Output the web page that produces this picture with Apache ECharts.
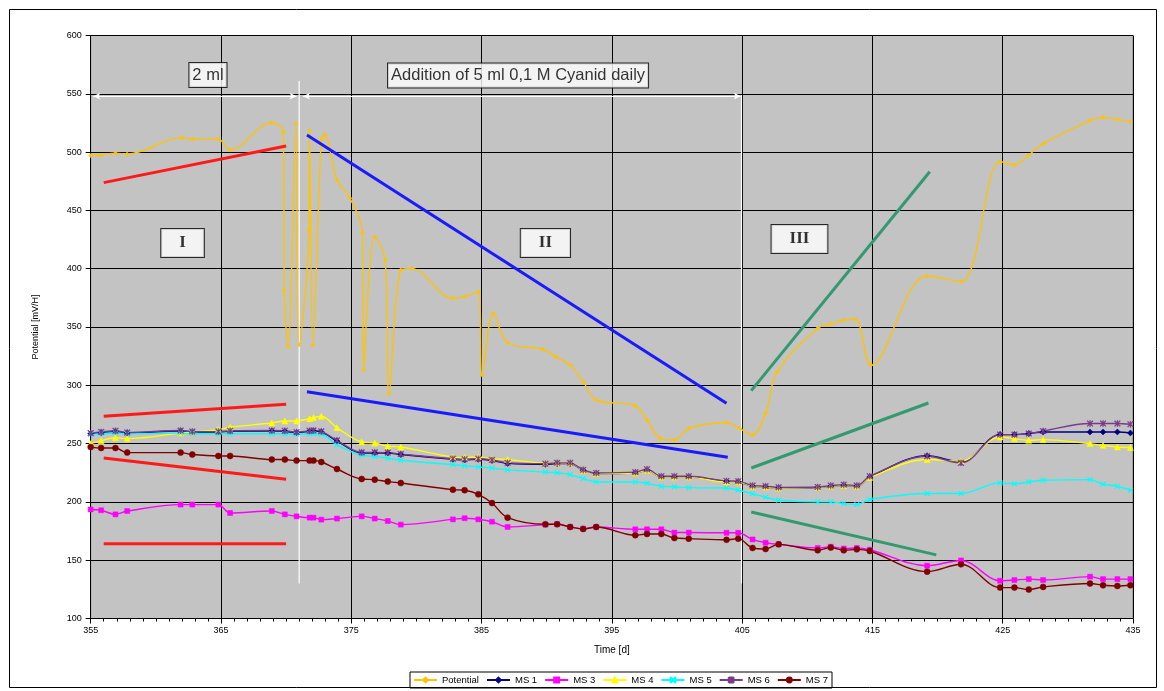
<!DOCTYPE html>
<html>
<head>
<meta charset="utf-8">
<script src="https://cdn.jsdelivr.net/npm/echarts@6/dist/echarts.min.js"></script>
<style>html,body{margin:0;padding:0;background:#fff;}#c{width:1164px;height:691px;}</style>
</head>
<body>
<div id="c"></div>
<script>
// ---- data (day, value) ----
const potential = [[355.0,497],[355.7,497.5],[356.9,499],[357.8,498.4],[362.0,512.4],[362.8,511.2],[364.8,511],[365.7,501.8],[368.9,525.2],[369.8,517.5],[369.85,381],[370.15,333],[370.75,524.7],[371.0,334.6],[371.75,432.6],[371.8,518.4],[372.05,334.6],[372.7,511],[372.95,515],[373.9,476],[374.9,460.4],[375.85,431],[375.95,313],[376.8,427.5],[377.6,407.5],[377.9,293],[378.8,399],[379.6,400.3],[382.8,374.6],[383.7,376],[384.75,380.3],[385.05,308.8],[385.9,361.7],[387.0,336.7],[389.7,330.9],[390.7,324.5],[391.8,317.4],[392.8,303.1],[393.8,287.4],[396.8,282.5],[397.7,270.2],[398.7,254.5],[399.8,253.1],[400.9,263.1],[403.8,267.9],[404.8,263.1],[405.8,257.4],[406.8,276],[407.7,311.7],[410.8,348.9],[411.8,352.6],[412.8,356],[413.7,356.6],[414.9,317.4],[419.2,393.7],[421.8,389],[424.8,491.8],[425.9,489],[427.0,497.5],[428.1,507],[431.7,527],[432.7,529.8],[433.8,528.1],[434.8,526.1]];
const ms1 = [[355.0,258.6],[355.8,259.4],[356.9,260.5],[357.8,259.1],[361.9,260.8],[362.8,260],[364.8,260],[365.7,260.5],[368.9,260.8],[369.9,260.5],[370.8,259.4],[371.8,260.5],[372.1,260.8],[372.7,260],[373.9,252.2],[375.8,241.9],[376.8,241.9],[377.8,241.9],[378.8,240.6],[382.8,236.5],[383.7,236],[384.75,236.5],[385.8,235.5],[387.0,233],[389.9,232.2],[390.8,232.8],[391.8,232.8],[392.8,227.1],[393.8,224.3],[396.8,224.8],[397.7,227.1],[398.8,221.4],[399.8,221.4],[400.9,221.4],[403.8,217.5],[404.7,217.1],[405.8,213.4],[406.8,212.8],[407.8,211.9],[410.8,212.2],[411.8,213.4],[412.8,214],[413.8,213.4],[414.8,221.4],[419.2,239.6],[421.8,234.2],[424.8,257.7],[425.9,257.7],[427.0,258.6],[428.1,260],[431.7,260],[432.7,260],[433.8,260],[434.8,259.1]];
const ms3 = [[355.0,193.5],[355.8,192.8],[356.9,189.3],[357.8,192.2],[361.9,197.7],[362.8,197.7],[364.8,197.7],[365.7,190.5],[368.9,192.2],[369.9,189.3],[370.8,187.6],[371.8,186.5],[372.1,186.5],[372.7,184.8],[373.9,185.7],[375.8,187.6],[376.8,185.7],[377.8,183.6],[378.8,180.5],[382.8,185],[383.7,186],[384.75,185],[385.8,183],[387.0,178.5],[389.9,180.5],[390.8,181],[391.8,178.5],[392.8,177],[393.8,178.5],[396.8,176.5],[397.7,176.5],[398.8,176.5],[399.8,173.7],[400.9,173.7],[403.8,173.5],[404.7,173.5],[405.8,167.8],[406.8,165],[407.8,163.6],[410.8,160.5],[411.8,161.5],[412.8,160],[413.8,160.5],[414.8,159],[419.2,145.3],[421.8,149.8],[424.8,132.4],[425.9,133],[427.0,133.8],[428.1,133],[431.7,135.9],[432.7,133.8],[433.8,133.8],[434.8,133.8]];
const ms4 = [[355.0,250],[355.8,252.5],[356.9,255],[357.8,254.3],[361.9,259],[362.8,260],[364.8,262],[365.7,264],[368.9,267.7],[369.9,269.4],[370.8,269.4],[371.8,271.4],[372.1,272.3],[372.7,273.4],[373.9,263.7],[375.8,251.4],[376.8,250.5],[377.8,247.7],[378.8,247.1],[382.8,238.5],[383.7,238],[384.75,238.5],[385.8,237.1],[387.0,236.3],[389.9,233.4],[390.8,233.4],[391.8,233.4],[392.8,227.1],[393.8,224.3],[396.8,224.8],[397.7,227.1],[398.8,221.4],[399.8,221.4],[400.9,221.4],[403.8,217.1],[404.7,217.1],[405.8,213.4],[406.8,212.8],[407.8,211.9],[410.8,212.5],[411.8,213.5],[412.8,214],[413.8,213.5],[414.8,221],[419.2,236.3],[421.8,235],[424.8,255.7],[425.9,254.3],[427.0,252.8],[428.1,253.4],[431.7,250],[432.7,248.5],[433.8,247.1],[434.8,246.6]];
const ms5 = [[355.0,258],[355.8,258.5],[356.9,259],[357.8,258.5],[361.9,259],[362.8,258.5],[364.8,258.5],[365.7,258.5],[368.9,258.5],[369.9,258.5],[370.8,258],[371.8,258.5],[372.1,258.5],[372.7,258],[373.9,249],[375.8,240],[376.8,239],[377.8,237.5],[378.8,235.7],[382.8,232],[383.7,231],[384.75,230],[385.8,229],[387.0,227.5],[389.9,225.6],[390.8,225],[391.8,223.4],[392.8,220],[393.8,217.1],[396.8,217.1],[397.7,216],[398.8,213.4],[399.8,213],[400.9,212.2],[403.8,211.9],[404.7,210],[405.8,207],[406.8,204],[407.8,201.4],[410.8,200],[411.8,200],[412.8,198.6],[413.8,197.7],[414.8,202],[419.2,207.2],[421.8,207.2],[424.8,216.3],[425.9,215.5],[427.0,217.1],[428.1,218.6],[431.7,219.1],[432.7,215.2],[433.8,213.4],[434.8,210]];
const ms6 = [[355.0,259],[355.8,260],[356.9,261],[357.8,259.5],[361.9,261.2],[362.8,260.3],[364.8,260.3],[365.7,261],[368.9,261.2],[369.9,261],[370.8,259.8],[371.8,261],[372.1,261.3],[372.7,260.5],[373.9,252.8],[375.8,242.5],[376.8,242.5],[377.8,242.3],[378.8,241],[382.8,237],[383.7,236.5],[384.75,237],[385.8,236],[387.0,233.5],[389.9,232.8],[390.8,233.5],[391.8,233.5],[392.8,227.5],[393.8,224.8],[396.8,225.5],[397.7,228],[398.8,222],[399.8,222],[400.9,222],[403.8,218],[404.7,217.8],[405.8,214],[406.8,213.5],[407.8,212.5],[410.8,212.8],[411.8,214],[412.8,214.8],[413.8,214],[414.8,222],[419.2,239.1],[421.8,233.4],[424.8,257.7],[425.9,257.7],[427.0,258.6],[428.1,260.8],[431.7,267.2],[432.7,267.2],[433.8,267.2],[434.8,266.6]];
const ms7 = [[355.0,247],[355.8,246.2],[356.9,246.2],[357.8,242.3],[361.9,242.3],[362.8,240.6],[364.8,239.4],[365.7,239.4],[368.9,236.3],[369.9,236.3],[370.8,235.4],[371.8,235.4],[372.1,235.4],[372.7,234.2],[373.9,228.2],[375.8,219.6],[376.8,219.1],[377.8,217.4],[378.8,216.2],[382.8,210.5],[383.7,210],[384.75,206.5],[385.8,199],[387.0,186.5],[389.9,180.8],[390.8,180.8],[391.8,178.5],[392.8,176.8],[393.8,178.5],[396.8,171.4],[397.7,172.5],[398.8,172.5],[399.8,169.0],[400.9,168.5],[403.8,167.5],[404.7,168.5],[405.8,160.5],[406.8,159.6],[407.8,163.6],[410.8,158.5],[411.8,160.8],[412.8,158.5],[413.8,159.3],[414.8,157.9],[419.2,140.2],[421.8,146.5],[424.8,126.5],[425.9,126.5],[427.0,124.8],[428.1,127.1],[431.7,130],[432.7,128.5],[433.8,127.9],[434.8,128.5]];

// trend / annotation lines (data coordinates)
const redTrends = [[[356.0,473.8],[370.0,505.2]],[[356.0,273.4],[370.0,283.7]],[[356.0,237.7],[370.0,219.4]],[[356.0,164.2],[370.0,164.2]]];
const blueTrends = [[[371.6,514.7],[403.8,284.6]],[[371.6,294.5],[403.9,238.3]]];
const greenTrends = [[[405.7,295.4],[419.4,483.2]],[[405.7,229.1],[419.3,284.8]],[[405.7,191.4],[419.9,154.6]]];
const dividers = [[[371.0,561],[371.0,130]],[[404.95,549],[404.95,130]]];
const periodSpans = [[[355.2,548],[370.8,548]],[[371.3,548],[404.9,548]]];
const boxLabels = [
  {text:'2 ml', at:[364.0,566.1], serif:false},
  {text:'Addition of 5 ml 0,1 M Cyanid daily', at:[387.8,565.7], serif:false},
  {text:'I', at:[362.05,422], serif:true},
  {text:'II', at:[389.9,422], serif:true},
  {text:'III', at:[409.4,425.5], serif:true}
];
const xTicks = {min:355, max:435, step:10};
const yTicks = {min:100, max:600, step:50};

const chart = echarts.init(document.getElementById('c'), null, {renderer:'canvas'});
const FONT = 'Liberation Sans, Arial, sans-serif';
const xShape = 'path://M1,0L5,4L9,0L10,1L6,5L10,9L9,10L5,6L1,10L0,9L4,5L0,1Z';
const starShape = 'path://M1,0L5,4L9,0L10,1L6,5L10,9L9,10L5,6L1,10L0,9L4,5L0,1Z M4.4,0L5.6,0L5.6,10L4.4,10Z';

function dataSeries(name, data, color, symbol, size, z){
  return {name, type:'line', data, smooth:0.35, symbol, symbolSize:size, showSymbol:true,
    lineStyle:{color, width:1.4}, itemStyle:{color, borderColor:color, borderWidth:0.5},
    emphasis:{disabled:true}, z: z, clip:true, animation:false};
}
function annoLine(pts, color, width, z){
  return {type:'line', data:pts, symbol:'none', lineStyle:{color, width}, silent:true,
    emphasis:{disabled:true}, z: z, animation:false, tooltip:{show:false}};
}

const series = [
  dataSeries('Potential', potential, '#ffc400', 'diamond', 4, 3),
  dataSeries('MS 1', ms1, '#000080', 'diamond', 6, 3),
  dataSeries('MS 3', ms3, '#ff00ff', 'rect', 5, 3),
  dataSeries('MS 4', ms4, '#ffff00', 'triangle', 6, 3),
  dataSeries('MS 5', ms5, '#00ffff', xShape, 5, 3),
  dataSeries('MS 6', ms6, '#7a3a8a', starShape, 6, 3),
  dataSeries('MS 7', ms7, '#800000', 'circle', 6, 3)
];
redTrends.forEach(p => series.push(annoLine(p, '#ff1a1a', 3, 4)));
blueTrends.forEach(p => series.push(annoLine(p, '#1a1aff', 3, 4)));
greenTrends.forEach(p => series.push(annoLine(p, '#339970', 3, 4)));
dividers.forEach(p => series.push(annoLine(p, '#ffffff', 1.2, 2)));
series.push({type:'line', data:[], silent:true, z:2, animation:false,
  markLine:{silent:true, symbol:['arrow','arrow'], symbolSize:[5,7], animation:false,
    lineStyle:{color:'#ffffff', width:1.2, type:'solid'}, label:{show:false},
    data: periodSpans.map(p => [{coord:p[0]},{coord:p[1]}])}});
series.push({type:'scatter', silent:true, z:10, animation:false, symbolSize:1,
  itemStyle:{color:'rgba(0,0,0,0)'},
  data: boxLabels.map(b => ({value:b.at, label:{
    show:true, position:'inside', formatter:b.text,
    fontFamily: b.serif ? 'Liberation Serif, Times New Roman, serif' : FONT,
    fontWeight: b.serif ? 'bold' : 'normal',
    fontSize: b.serif ? 17 : 16.5,
    color:'#000', backgroundColor:'#ffffff', borderColor:'#000', borderWidth:1,
    padding: b.serif ? [6,18,5,18] : [4,3,3,3]
  }}))});

chart.setOption({
  animation:false,
  backgroundColor:'#ffffff',
  graphic:[{type:'rect', shape:{x:9.5, y:9.5, width:1147, height:678}, style:{fill:'none', stroke:'#000', lineWidth:1}, silent:true}],
  grid:{left:90.7, right:31, top:35.5, bottom:72.5, show:true, backgroundColor:'#c3c3c3', borderColor:'#808080', borderWidth:1},
  legend:{data:['Potential','MS 1','MS 3','MS 4','MS 5','MS 6','MS 7'], left:410, bottom:3,
    itemWidth:23, itemHeight:6, itemGap:7, padding:[3,4,3,3], borderColor:'#000', borderWidth:1,
    textStyle:{fontFamily:FONT, fontSize:9.5, color:'#000'}},
  xAxis:{type:'value', min:xTicks.min, max:xTicks.max, interval:xTicks.step,
    name:'Time [d]', nameLocation:'middle', nameGap:27, nameTextStyle:{fontFamily:FONT, fontSize:10, color:'#000'},
    axisLine:{show:true, onZero:false, lineStyle:{color:'#000', width:1}},
    axisTick:{show:true, inside:false, length:5, lineStyle:{color:'#000'}},
    minorTick:{show:true, splitNumber:10, length:3, lineStyle:{color:'#000'}},
    axisLabel:{fontFamily:FONT, fontSize:9, color:'#000', margin:8},
    splitLine:{show:true, lineStyle:{color:'#000', width:1}}},
  yAxis:{type:'value', min:yTicks.min, max:yTicks.max, interval:yTicks.step,
    name:'Potential [mV/H]', nameLocation:'middle', nameGap:51, nameRotate:90,
    nameTextStyle:{fontFamily:FONT, fontSize:9, color:'#000'},
    axisLine:{show:true, onZero:false, lineStyle:{color:'#000', width:1}},
    axisTick:{show:true, inside:false, length:5, lineStyle:{color:'#000'}},
    axisLabel:{fontFamily:FONT, fontSize:9, color:'#000', margin:9},
    splitLine:{show:true, lineStyle:{color:'#000', width:1}}},
  series
});
</script>
</body>
</html>
